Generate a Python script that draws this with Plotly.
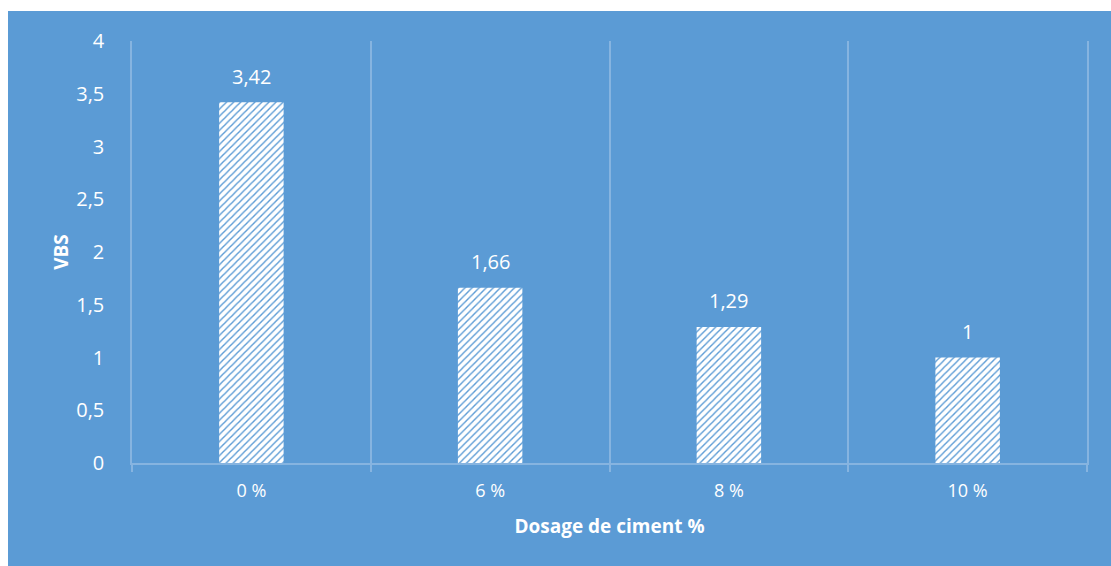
import plotly.graph_objects as go

categories = ["0 %", "6 %", "8 %", "10 %"]
vbs_values = [3.42, 1.66, 1.29, 1]
value_labels = ["3,42", "1,66", "1,29", "1"]

BLUE = "#5B9BD5"
GRID = "#86B4E0"
FONT = "Open Sans"

W, H = 1111, 566
L, R, T, B = 132, 24, 41, 103
pw, ph = W - L - R, H - T - B

def px_x(p):
    return (p - L) / pw

def px_y(p):
    return (H - B - p) / ph

fig = go.Figure()
fig.add_trace(go.Bar(
    x=categories,
    y=vbs_values,
    width=0.27,
    marker=dict(
        color="white",
        line=dict(width=0),
        pattern=dict(shape="/", bgcolor="white", fgcolor=BLUE,
                     size=5, solidity=0.28, fillmode="replace"),
    ),
    hoverinfo="skip",
))

annotations = [
    dict(x=c, y=v, text=t, showarrow=False, xref="x", yref="y",
         yanchor="middle", yshift=26,
         font=dict(color="white", size=20, family=FONT))
    for c, v, t in zip(categories, vbs_values, value_labels)
]

fig.update_layout(
    width=W, height=H,
    margin=dict(l=L, r=R, t=T, b=B),
    paper_bgcolor=BLUE,
    plot_bgcolor=BLUE,
    separators=", ",
    showlegend=False,
    font=dict(family=FONT, color="white", size=20),
    annotations=annotations,
    xaxis=dict(
        type="category",
        tickson="boundaries",
        showgrid=True, gridcolor=GRID, gridwidth=1.5,
        showline=True, linecolor=GRID, linewidth=1.5,
        ticks="outside", ticklen=7, tickcolor=GRID, tickwidth=1.5,
        ticklabelstandoff=11,
        tickfont=dict(size=18, color="white", family=FONT),
        title=dict(text="<b>Dosage de ciment %</b>", font=dict(size=19, color="white", family=FONT), standoff=18),
    ),
    yaxis=dict(
        range=[0, 4],
        dtick=0.5,
        showgrid=False,
        zeroline=False,
        showline=True, mirror=True, linecolor=GRID, linewidth=1.5,
        ticks="",
        tickfont=dict(size=20, color="white", family=FONT),
        ticklabelstandoff=22,
        title=dict(text="<b>VBS</b>", font=dict(size=19, color="white", family=FONT), standoff=3),
    ),
    shapes=[
        dict(type="rect", xref="paper", yref="paper", layer="above",
             x0=px_x(-5), x1=px_x(8), y0=px_y(H + 5), y1=px_y(-5),
             fillcolor="white", line=dict(width=0)),
        dict(type="rect", xref="paper", yref="paper", layer="above",
             x0=px_x(-5), x1=px_x(W + 5), y0=px_y(11), y1=px_y(-5),
             fillcolor="white", line=dict(width=0)),
    ],
)

fig.write_html("out.html")
